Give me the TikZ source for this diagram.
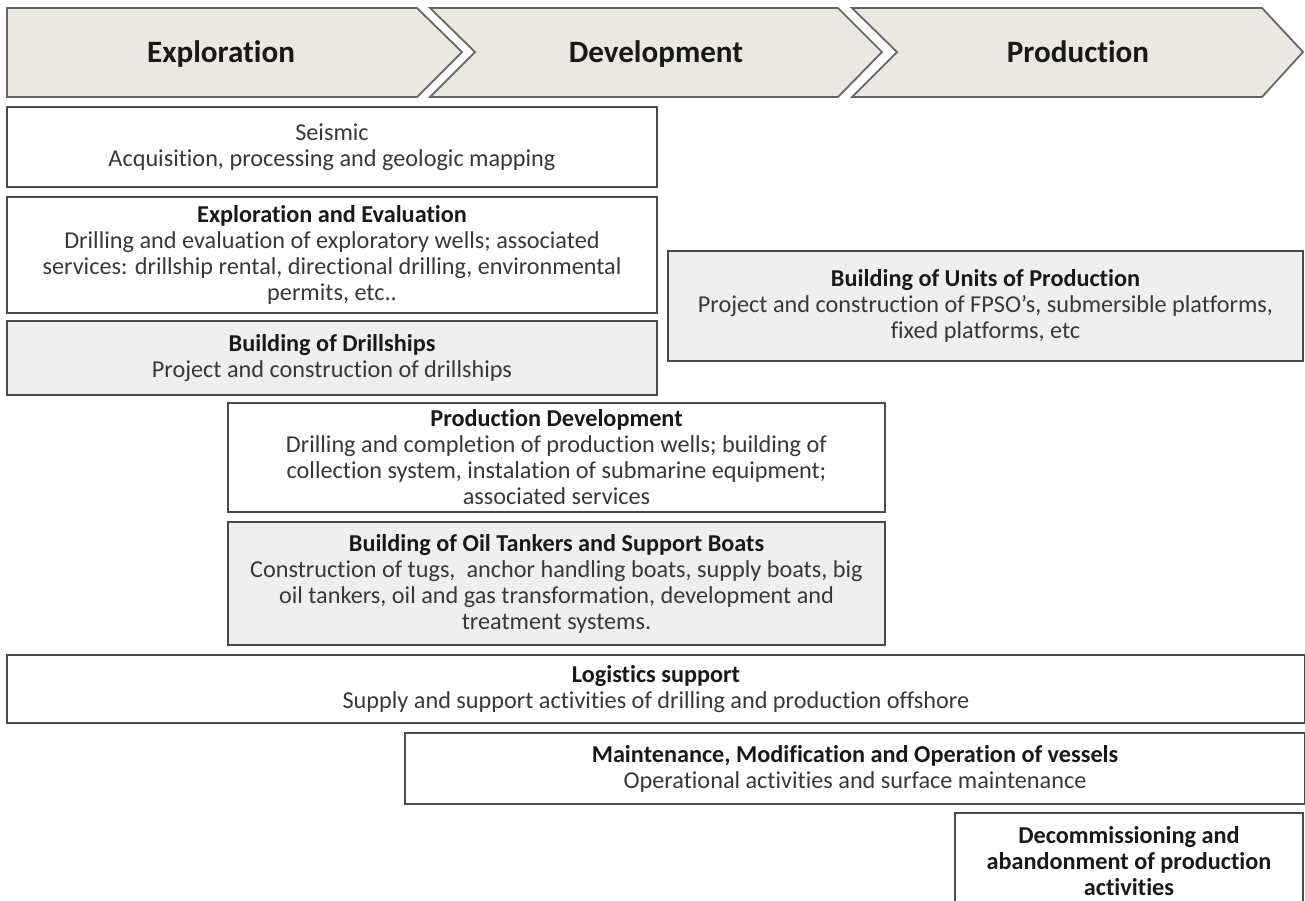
\documentclass[tikz,border=0pt]{standalone}
\usepackage{fontspec}
\setmainfont{Carlito}[RawFeature={-liga;-dlig;-clig}]
\usepackage{tikz}

\definecolor{chev}{HTML}{EAE8E0}
\definecolor{boxgray}{HTML}{EFEFEF}
\definecolor{edge}{HTML}{4A4A4A}
\definecolor{txt}{HTML}{383838}

\tikzset{
  chevron/.style={fill=chev, draw=edge!85, line width=1pt, line join=miter},
  phase/.style={font=\fontsize{17.7}{20}\selectfont\bfseries, text=black!90, anchor=base},
  box/.style={draw=edge, line width=1.2pt, fill=white, align=center, text=txt,
    font=\fontsize{13.8}{14.8}\selectfont, inner sep=0pt},
  graybox/.style={box, fill=boxgray},
}
\newcommand{\ttl}[1]{{\bfseries\color{black!90}#1}}

\begin{document}
\begin{tikzpicture}[x=0.02cm,y=-0.02cm]
\clip (0,0) rectangle (1305,900);
\fill[white] (0,0) rectangle (1305,900);

% phases
\draw[chevron] (7,8) -- (417,8) -- (462,52) -- (417,97) -- (7,97) -- cycle;
\draw[chevron] (430,8) -- (838,8) -- (882,52) -- (838,97) -- (430,97) -- (475,52) -- cycle;
\draw[chevron] (852,8) -- (1262,8) -- (1303,52) -- (1262,97) -- (852,97) -- (897,52) -- cycle;
\node[phase] (expl) at (221,62) {Exploration};
\node[phase] (dev) at (656,62) {Development};
\node[phase] (prod) at (1078,62) {Production};

% activities
\node[box, minimum width=13cm, minimum height=1.6cm] (seismic) at (332,147)
  {Seismic\\Acquisition, processing and geologic mapping};
\node[box, minimum width=13cm, minimum height=2.32cm] (expleval) at (332,255)
  {\ttl{Exploration and Evaluation}\\Drilling and evaluation of exploratory wells; associated\\services: drillship rental, directional drilling, environmental\\permits, etc..};
\node[graybox, minimum width=13cm, minimum height=1.48cm] (drillships) at (332,358)
  {\ttl{Building of Drillships}\\Project and construction of drillships};
\node[graybox, minimum width=12.7cm, minimum height=2.2cm] (units) at (985.5,306)
  {\ttl{Building of Units of Production}\\Project and construction of FPSO’s, submersible platforms,\\fixed platforms, etc};
\node[box, minimum width=13.14cm, minimum height=2.18cm] (proddev) at (556.5,457.5)
  {\ttl{Production Development}\\Drilling and completion of production wells; building of\\collection system, instalation of submarine equipment;\\associated services};
\node[graybox, minimum width=13.14cm, minimum height=2.46cm] (tankers) at (556.5,583.5)
  {\ttl{Building of Oil Tankers and Support Boats}\\Construction of tugs,\ \ anchor handling boats, supply boats, big\\oil tankers, oil and gas transformation, development and\\treatment systems.};
\node[box, minimum width=25.96cm, minimum height=1.36cm] (logistics) at (656,689)
  {\ttl{Logistics support}\\Supply and support activities of drilling and production offshore};
\node[box, minimum width=18cm, minimum height=1.42cm] (maint) at (855,768.5)
  {\ttl{Maintenance, Modification and Operation of vessels}\\Operational activities and surface maintenance};
\node[box, minimum width=6.96cm, minimum height=1.94cm, font=\fontsize{13.8}{14.8}\selectfont\bfseries,
  text=black!90] (decom) at (1129,861.5)
  {Decommissioning and\\abandonment of production\\activities};
\end{tikzpicture}
\end{document}
